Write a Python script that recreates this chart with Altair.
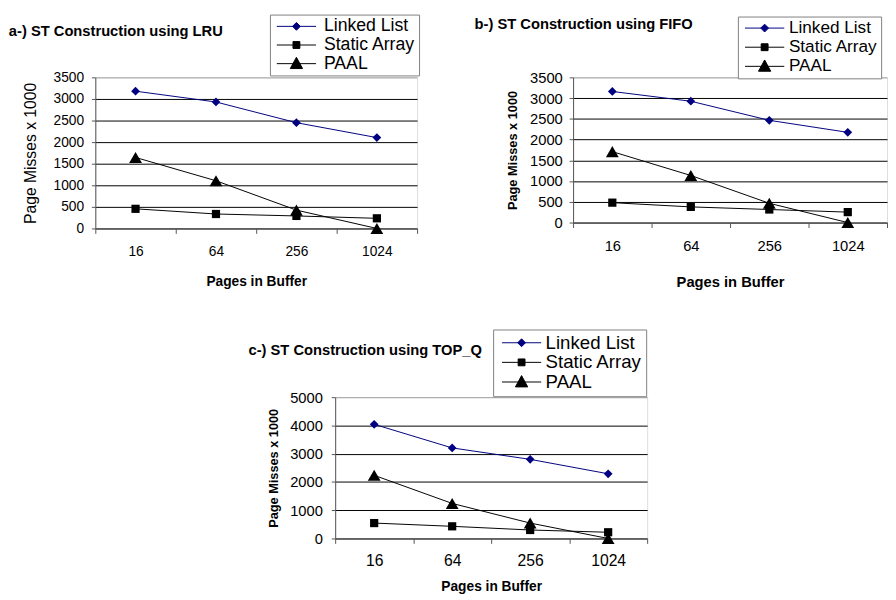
import altair as alt
import pandas as pd

pages = ["16", "64", "256", "1024"]
series = ["Linked List", "Static Array", "PAAL"]

lru_linked = [3180, 2930, 2450, 2105]
lru_static = [455, 335, 290, 235]
lru_paal = [1645, 1105, 425, 0]

fifo_linked = [3160, 2925, 2465, 2175]
fifo_static = [480, 378, 315, 252]
fifo_paal = [1710, 1135, 465, 0]

topq_linked = [4040, 3205, 2800, 2290]
topq_static = [545, 430, 300, 220]
topq_paal = [2235, 1240, 545, 0]

colors = ["#000080", "#000000", "#000000"]
marker_shapes = ["diamond", "square", "triangle-up"]
marker_sizes = [80, 70, 170]
legend_paths = [
    "M-1,0H7M3,-0.8L3.8,0L3,0.8L2.2,0Z",
    "M-1,0H7M2.3,-0.7H3.7V0.7H2.3Z",
    "M-1,0H7M3,-1.3L4.25,1L1.75,1Z",
]
FONT = "Liberation Sans"
IND = dict(color="independent", shape="independent", stroke="independent")


def panel(title, vals, ymax, ystep, w, h, c):
    df = pd.DataFrame({
        "pages": pages * 3,
        "series": [s for s in series for _ in pages],
        "value": vals[0] + vals[1] + vals[2],
    })
    base = alt.Chart(df)
    x = alt.X(
        "pages:N", sort=pages,
        scale=alt.Scale(type="band", paddingInner=0, paddingOuter=0),
        axis=alt.Axis(
            title="Pages in Buffer", tickBand="extent", grid=False, labelAngle=0,
            labelFont=FONT, labelFontSize=c["xl"], labelColor="black",
            labelPadding=c["xlp"], tickSize=5, tickColor="#555", domainColor="#555",
            titleFont=FONT, titleFontSize=c["xt"], titleFontWeight="bold",
            titleColor="black", titlePadding=c["xtp"],
        ),
    )
    y = alt.Y(
        "value:Q",
        scale=alt.Scale(domain=[0, ymax], nice=False),
        axis=alt.Axis(
            title="Page Misses x 1000", values=list(range(0, ymax + 1, ystep)),
            format="d", grid=True,
            gridColor={"condition": {"test": f"datum.value >= {ymax}", "value": "#a0a0a0"},
                       "value": "black"},
            gridWidth=1, labelFont=FONT, labelFontSize=c["yl"], labelColor="black",
            labelPadding=c["ylp"], tickSize=4, tickColor="#555", domainColor="#555",
            titleFont=FONT, titleFontSize=c["yt"], titleFontWeight=c["ytw"],
            titleColor="black", titlePadding=c["ytp"],
        ),
    )
    lines = [
        base.transform_filter(alt.datum.series == s)
        .mark_line(strokeWidth=1, color=col)
        .encode(x=x, y=y)
        for s, col in zip(series, colors)
    ]
    points = [
        base.transform_filter(alt.datum.series == s)
        .mark_point(filled=True, opacity=1, shape=shp, size=sz, color=col)
        .encode(x=x, y=y)
        for s, shp, sz, col in zip(series, marker_shapes, marker_sizes, colors)
    ]
    leg = alt.Legend(
        title=None, orient="none", legendX=c["lx"], legendY=c["ly"],
        direction="vertical", strokeColor="#808080", fillColor="white",
        padding=c["pad"], symbolSize=100, symbolOffset=c["so"], symbolStrokeWidth=1,
        labelOffset=c["lo"], labelFont=FONT, labelFontSize=c["lf"],
        labelColor="black", rowPadding=c["rp"], labelLimit=300, cornerRadius=0,
    )
    legend_layer = base.transform_filter("false").mark_point(
        filled=True, opacity=1, strokeWidth=1
    ).encode(
        shape=alt.Shape("series:N", scale=alt.Scale(domain=series, range=legend_paths), legend=leg),
        color=alt.Color("series:N", scale=alt.Scale(domain=series, range=colors), legend=leg),
        stroke=alt.Stroke("series:N", scale=alt.Scale(domain=series, range=colors), legend=leg),
    )
    # invisible spacer so that the layout reserves room for the legend box
    spacer = alt.Chart(pd.DataFrame({"k": [0]})).mark_rule(opacity=0).encode(
        x=alt.value(c["lx"]), x2=alt.value(c["lx"] + 140), y=alt.value(c["ly"])
    )
    layered = alt.layer(*lines, *points, legend_layer, spacer).properties(
        width=w, height=h,
        title=alt.TitleParams(
            title, anchor="start", font=FONT, fontSize=15, fontWeight="bold",
            color="black", dx=c["tdx"], dy=c["tdy"],
        ),
    )
    return layered


a = panel("a-) ST Construction using LRU", [lru_linked, lru_static, lru_paal],
          3500, 500, 328, 154,
          dict(xl=14, xlp=12, xt=14, xtp=16, yl=14, ylp=8, yt=16, ytw="normal", ytp=15,
               lx=178, ly=-64, pad=3, so=0, lo=34, lf=18, rp=1, tdx=-14, tdy=29))
b = panel("b-) ST Construction using FIFO", [fifo_linked, fifo_static, fifo_paal],
          3500, 500, 320, 148,
          dict(xl=15, xlp=11, xt=15, xtp=22, yl=15, ylp=7, yt=13, ytw="bold", ytp=10,
               lx=168, ly=-62, pad=3, so=0.5, lo=31, lf=17.5, rp=0.5, tdx=-33, tdy=20))
cc = panel("c-) ST Construction using TOP_Q", [topq_linked, topq_static, topq_paal],
           5000, 1000, 318, 144,
           dict(xl=16, xlp=10, xt=14, xtp=11, yl=15, ylp=9, yt=13, ytw="bold", ytp=9,
                lx=161, ly=-69, pad=4, so=0.5, lo=30, lf=19, rp=0, tdx=-20, tdy=33))

a_cell = alt.vconcat(a).resolve_scale(**IND).resolve_legend(**IND)
b_cell = alt.vconcat(b).resolve_scale(**IND).resolve_legend(**IND)
top_row = alt.hconcat(a_cell, b_cell, spacing=55).resolve_scale(**IND).resolve_legend(**IND)
chart = (
    alt.vconcat(top_row, cc, spacing=39, center=True)
    .resolve_scale(**IND)
    .resolve_legend(**IND)
    .properties(padding=0)
    .configure_view(stroke="#a0a0a0", strokeWidth=1)
    .configure(background="white")
)

chart.save("out.html", embed_options={"renderer": "svg", "actions": False})
